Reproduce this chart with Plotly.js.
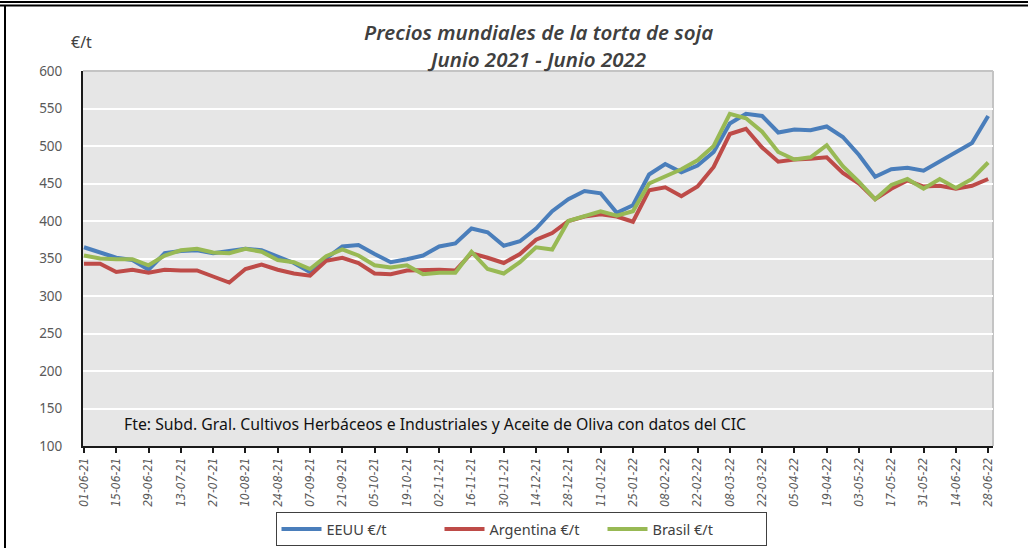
<!DOCTYPE html>
<html>
<head>
<meta charset="utf-8">
<script src="https://cdn.plot.ly/plotly-3.0.1.min.js"></script>
<style>html,body{margin:0;padding:0;background:#fff;}#chart{width:1028px;height:548px;}</style>
</head>
<body>
<div id="chart"></div>
<script>
const weeks = ["01-06-21","08-06-21","15-06-21","22-06-21","29-06-21","06-07-21","13-07-21","20-07-21","27-07-21","03-08-21","10-08-21","17-08-21","24-08-21","31-08-21","07-09-21","14-09-21","21-09-21","28-09-21","05-10-21","12-10-21","19-10-21","26-10-21","02-11-21","09-11-21","16-11-21","23-11-21","30-11-21","07-12-21","14-12-21","21-12-21","28-12-21","04-01-22","11-01-22","18-01-22","25-01-22","01-02-22","08-02-22","15-02-22","22-02-22","01-03-22","08-03-22","15-03-22","22-03-22","29-03-22","05-04-22","12-04-22","19-04-22","26-04-22","03-05-22","10-05-22","17-05-22","24-05-22","31-05-22","07-06-22","14-06-22","21-06-22","28-06-22"];

const tickLabels = ["01-06-21","15-06-21","29-06-21","13-07-21","27-07-21","10-08-21","24-08-21","07-09-21","21-09-21","05-10-21","19-10-21","02-11-21","16-11-21","30-11-21","14-12-21","28-12-21","11-01-22","25-01-22","08-02-22","22-02-22","08-03-22","22-03-22","05-04-22","19-04-22","03-05-22","17-05-22","31-05-22","14-06-22","28-06-22"];

const eeuu = [365,358,351,348,335,357,360,361,357,360,363,361,352,344,332,350,366,368,356,345,349,354,366,370,390,385,367,373,390,413,429,440,437,411,421,462,476,465,474,492,530,543,540,518,522,521,526,512,488,459,469,471,467,479,491,504,540];

const argentina = [343,343,332,335,331,335,334,334,326,318,336,342,335,330,327,347,351,344,330,329,334,335,335,334,357,351,344,356,375,384,400,406,409,406,399,441,445,433,446,472,516,523,498,479,482,483,485,464,450,429,443,454,446,447,443,447,456];

const brasil = [354,350,349,349,341,354,361,363,358,357,363,359,348,345,336,353,362,354,341,338,341,329,331,331,359,336,330,345,365,362,400,406,413,407,413,450,460,469,481,500,543,537,519,492,482,485,501,473,452,429,448,456,443,456,444,456,478];

const seriesNames = ["EEUU €/t","Argentina €/t","Brasil €/t"];
const seriesColors = ["#4A7EBB","#BE4B48","#98B954"];
const yTicks = [100,150,200,250,300,350,400,450,500,550,600];
const titleLines = ["Precios mundiales de la torta de soja", "Junio 2021 - Junio 2022"];

const FONT = "'Noto Sans', 'Open Sans', sans-serif";
const NARROW = "'Liberation Sans Narrow', 'DejaVu Sans Condensed', sans-serif";

const traces = [eeuu, argentina, brasil].map((vals, k) => ({
  type: "scatter",
  mode: "lines",
  x: weeks,
  y: vals,
  name: seriesNames[k],
  line: {color: seriesColors[k], width: 4, shape: "linear"},
  hoverinfo: "x+y+name"
}));

const W = 1028, H = 548;
const L = 83, R = 35, T = 71, B = 102;
const pw = W - L - R, ph = H - T - B;
const px = x => (x - L) / pw;
const py = y => (H - B - y) / ph;

const layout = {
  width: W, height: H,
  margin: {l: L, r: R, t: T, b: B, pad: 0, autoexpand: false},
  paper_bgcolor: "#ffffff",
  plot_bgcolor: "#E6E6E6",
  showlegend: true,
  xaxis: {
    type: "category",
    range: [-0.06, 56.3],
    tickmode: "array",
    tickvals: tickLabels,
    ticktext: tickLabels,
    tickangle: -90,
    tickfont: {family: NARROW, size: 12, color: "#595959", style: "italic"},
    ticks: "outside", ticklen: 5, tickwidth: 2, tickcolor: "#1a1a1a",
    showgrid: false, zeroline: false,
    showline: true, linecolor: "#1a1a1a", linewidth: 2,
    automargin: false,
    fixedrange: true
  },
  yaxis: {
    range: [100, 600],
    tickmode: "array",
    tickvals: yTicks,
    ticktext: yTicks.map(String),
    tickfont: {family: FONT, size: 13.5, color: "#595959"},
    ticks: "", ticklabelstandoff: 16,
    showgrid: true, gridcolor: "#ffffff", gridwidth: 2,
    zeroline: false,
    showline: true, linecolor: "#1a1a1a", linewidth: 2,
    automargin: false,
    fixedrange: true
  },
  legend: {
    orientation: "h",
    xref: "container", yref: "container",
    x: 521 / W, xanchor: "center",
    y: 1 - 512 / H, yanchor: "top",
    bordercolor: "#404040", borderwidth: 1,
    bgcolor: "#ffffff",
    font: {family: FONT, size: 14.5, color: "#404040"},
    entrywidth: 108,
    itemwidth: 40,
    tracegroupgap: 0
  },
  annotations: [
    {
      text: titleLines.join("<br>"), xref: "paper", yref: "paper",
      x: 0.5, y: py(45), xanchor: "center", yanchor: "middle",
      showarrow: false,
      font: {family: FONT, size: 20.5, color: "#404040", style: "italic", weight: 600}
    },
    {
      text: "€/t", xref: "paper", yref: "paper",
      x: px(81), y: py(42), xanchor: "center", yanchor: "middle",
      showarrow: false, font: {family: FONT, size: 16, color: "#404040"}
    },
    {
      text: "Fte: Subd. Gral. Cultivos Herbáceos e Industriales y Aceite de Oliva con datos del CIC",
      xref: "paper", yref: "paper",
      x: px(122), y: py(424), xanchor: "left", yanchor: "middle",
      showarrow: false, font: {family: FONT, size: 15.8, color: "#111111"}
    }
  ],
  shapes: [
    {type: "line", xref: "paper", yref: "paper", x0: 0, x1: 1, y0: 1, y1: 1, line: {color: "#C4C4C4", width: 2}, layer: "below"},
    {type: "line", xref: "paper", yref: "paper", x0: 1, x1: 1, y0: 0, y1: 1, line: {color: "#C4C4C4", width: 2}, layer: "below"},
    {type: "line", xref: "paper", yref: "paper", x0: px(0), x1: px(W), y0: py(2), y1: py(2), line: {color: "#000000", width: 2}},
    {type: "line", xref: "paper", yref: "paper", x0: px(0), x1: px(W), y0: py(5.5), y1: py(5.5), line: {color: "#000000", width: 2}},
    {type: "line", xref: "paper", yref: "paper", x0: px(5), x1: px(5), y0: py(5.5), y1: py(H), line: {color: "#000000", width: 2}}
  ]
};

Plotly.newPlot("chart", traces, layout, {displayModeBar: false, staticPlot: true});
</script>
</body>
</html>
